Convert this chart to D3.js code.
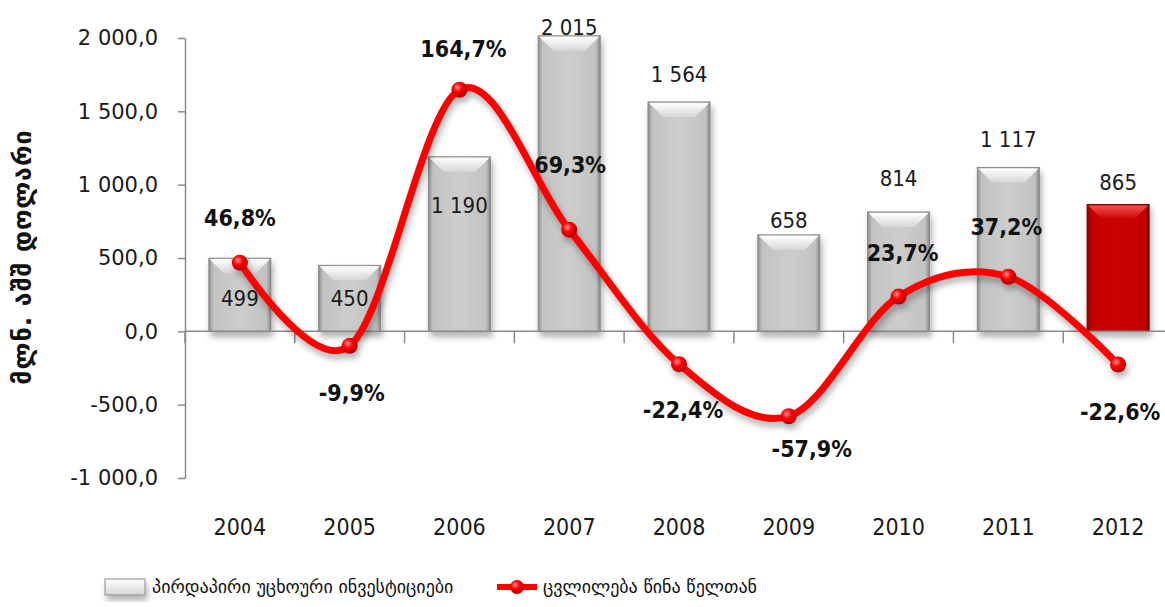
<!DOCTYPE html>
<html>
<head>
<meta charset="utf-8">
<script src="https://cdn.jsdelivr.net/npm/d3@7"></script>
<style>
  body { margin: 0; background: #fff; }
  svg { display: block; }
</style>
</head>
<body>
<svg id="chart"></svg>
<script>
// chart values
let years = ["2004", "2005", "2006", "2007", "2008", "2009", "2010", "2011", "2012"];
let fdiValues = [499, 450, 1190, 2015, 1564, 658, 814, 1117, 865];
let changePct = [46.8, -9.9, 164.7, 69.3, -22.4, -57.9, 23.7, 37.2, -22.6];
let yTicks = [-1000, -500, 0, 500, 1000, 1500, 2000];

let yTitle = "მლნ. აშშ დოლარი";
let legendBars = "პირდაპირი უცხოური ინვესტიციები";
let legendLine = "ცვლილება წინა წელთან";

// label nudges (px), the source chart had them moved by hand
let barLabelDy = [40, 33, 48, -9, -28, -15, -34, -28, -22];
let pctLabelDx = [0, 2, 4, 1, 4, 23, 4, -2, 2];
let pctLabelDy = [-45, 47, -41, -65, 46, 33, -44, -50, 47];

let width = 1165, height = 607;
let margin = {top: 38, right: -8, bottom: 129, left: 185};

let svg = d3.select("#chart")
  .attr("width", width)
  .attr("height", height)
  .attr("viewBox", [0, 0, width, height]);

let locale = d3.formatLocale({decimal: ",", thousands: " ", grouping: [3], currency: ["", ""], minus: "-"});
let fmtTick = locale.format(",.1f");
let fmtVal = locale.format(",.0f");
let fmtPct = locale.format(".1f");

let x = d3.scaleBand()
  .domain(years)
  .range([margin.left, width - margin.right])
  .paddingInner(0.435)
  .paddingOuter(0.2175);

let y = d3.scaleLinear()
  .domain([-1000, 2000])
  .range([height - margin.bottom, margin.top]);

// percent series shares the same vertical space (-100%..200%)
let yPct = d3.scaleLinear()
  .domain([-100, 200])
  .range([height - margin.bottom, margin.top]);

let cx = (d) => x(d) + x.bandwidth() / 2;

// defs: gradients + shadow
let defs = svg.append("defs");

function hGrad(id, stops) {
  let g = defs.append("linearGradient").attr("id", id)
    .attr("x1", "0%").attr("x2", "100%").attr("y1", "0%").attr("y2", "0%");
  stops.forEach((s) => g.append("stop").attr("offset", s[0]).attr("stop-color", s[1]));
}
function vGrad(id, stops) {
  let g = defs.append("linearGradient").attr("id", id)
    .attr("x1", "0%").attr("x2", "0%").attr("y1", "0%").attr("y2", "100%");
  stops.forEach((s) => g.append("stop").attr("offset", s[0]).attr("stop-color", s[1]));
}

hGrad("barGrey", [["0%", "#8c8c8c"], ["7%", "#c2c2c2"], ["50%", "#cdcdcd"], ["93%", "#c2c2c2"], ["100%", "#858585"]]);
hGrad("barRed", [["0%", "#8a0000"], ["7%", "#c00000"], ["50%", "#cc0000"], ["93%", "#c00000"], ["100%", "#800000"]]);
vGrad("bevelGrey", [["0%", "#ffffff"], ["100%", "#d6d6d6"]]);
vGrad("bevelRed", [["0%", "#f05050"], ["100%", "#cc0000"]]);

let rg = defs.append("radialGradient").attr("id", "marker")
  .attr("cx", "38%").attr("cy", "35%").attr("r", "65%");
rg.append("stop").attr("offset", "0%").attr("stop-color", "#ff9090");
rg.append("stop").attr("offset", "45%").attr("stop-color", "#ff0000");
rg.append("stop").attr("offset", "100%").attr("stop-color", "#b00000");

let shadow = defs.append("filter").attr("id", "shadow")
  .attr("x", "-20%").attr("y", "-20%").attr("width", "140%").attr("height", "160%");
shadow.append("feDropShadow")
  .attr("dx", 2).attr("dy", 5).attr("stdDeviation", 3)
  .attr("flood-color", "#000").attr("flood-opacity", 0.3);

// Axes.
let yAxis = svg.append("g")
  .attr("transform", "translate(" + margin.left + ",0)")
  .call(d3.axisLeft(y).tickValues(yTicks).tickSize(7).tickSizeOuter(0).tickPadding(20)
    .tickFormat((d) => fmtTick(d)));
yAxis.select(".domain").attr("stroke", "#8a8a8a").attr("stroke-width", 1.5);
yAxis.selectAll(".tick line").attr("stroke", "#8a8a8a").attr("stroke-width", 1.5);
yAxis.selectAll(".tick text")
  .attr("fill", "#1a1a1a")
  .style("font-family", "'DejaVu Sans', Verdana, sans-serif")
  .style("font-size", "21px");

// Render bars.
let bars = svg.append("g").attr("filter", "url(#shadow)")
  .selectAll("g").data(years).join("g");

bars.append("rect")
  .attr("x", (d) => x(d))
  .attr("y", (d, i) => y(fdiValues[i]))
  .attr("width", x.bandwidth())
  .attr("height", (d, i) => y(0) - y(fdiValues[i]))
  .attr("fill", (d, i) => i == years.length - 1 ? "url(#barRed)" : "url(#barGrey)")
  .attr("stroke", (d, i) => i == years.length - 1 ? "#7a0000" : "#8a8a8a")
  .attr("stroke-width", 1);

bars.append("path")
  .attr("d", (d, i) => {
    let x0 = x(d), x1 = x(d) + x.bandwidth(), t = y(fdiValues[i]), b = 15;
    return "M" + (x0 + 1) + "," + (t + 1) + "L" + (x1 - 1) + "," + (t + 1) +
      "L" + (x1 - b) + "," + (t + b) + "L" + (x0 + b) + "," + (t + b) + "Z";
  })
  .attr("fill", (d, i) => i == years.length - 1 ? "url(#bevelRed)" : "url(#bevelGrey)");

// zero line + category ticks
let axisG = svg.append("g").attr("stroke", "#8a8a8a").attr("stroke-width", 1.5);
axisG.append("line")
  .attr("x1", margin.left).attr("x2", width)
  .attr("y1", y(0)).attr("y2", y(0));
axisG.selectAll("line.cat").data(years).join("line")
  .attr("class", "cat")
  .attr("x1", (d) => x(d) - x.step() * x.paddingInner() / 2)
  .attr("x2", (d) => x(d) - x.step() * x.paddingInner() / 2)
  .attr("y1", y(0)).attr("y2", y(0) + 12);

// year labels, low position
svg.append("g").selectAll("text").data(years).join("text")
  .attr("x", (d) => cx(d))
  .attr("y", y(-1000) + 49)
  .attr("text-anchor", "middle")
  .attr("dy", "0.35em")
  .attr("fill", "#1a1a1a")
  .style("font-family", "'Liberation Sans Narrow', 'DejaVu Sans Condensed', sans-serif")
  .style("font-size", "23px")
  .text((d) => d);

// bar value labels
svg.append("g").selectAll("text").data(years).join("text")
  .attr("x", (d) => cx(d))
  .attr("y", (d, i) => y(fdiValues[i]) + barLabelDy[i])
  .attr("text-anchor", "middle")
  .attr("dy", "0.35em")
  .attr("fill", "#1a1a1a")
  .style("font-family", "'DejaVu Sans Condensed', 'Liberation Sans Narrow', sans-serif")
  .style("font-size", "22px")
  .text((d, i) => fmtVal(fdiValues[i]));

// Render line.
let line = d3.line()
  .x((d) => cx(d))
  .y((d, i) => yPct(changePct[i]))
  .curve(d3.curveCardinal.tension(0));

let lineG = svg.append("g").attr("filter", "url(#shadow)");
lineG.append("path")
  .datum(years)
  .attr("d", line)
  .attr("fill", "none")
  .attr("stroke", "#ff0000")
  .attr("stroke-width", 7)
  .attr("stroke-linecap", "round");

lineG.selectAll("circle").data(years).join("circle")
  .attr("cx", (d) => cx(d))
  .attr("cy", (d, i) => yPct(changePct[i]))
  .attr("r", 8)
  .attr("fill", "url(#marker)");

// percent labels
svg.append("g").selectAll("text").data(years).join("text")
  .attr("x", (d, i) => cx(d) + pctLabelDx[i])
  .attr("y", (d, i) => yPct(changePct[i]) + pctLabelDy[i])
  .attr("text-anchor", "middle")
  .attr("dy", "0.35em")
  .attr("fill", "#111")
  .style("font-family", "'DejaVu Sans Condensed', 'Liberation Sans Narrow', sans-serif")
  .style("font-weight", "bold")
  .style("font-size", "23px")
  .text((d, i) => fmtPct(changePct[i]) + "%");

// y axis title
svg.append("text")
  .attr("transform", "translate(22,257) rotate(-90)")
  .attr("text-anchor", "middle")
  .attr("dy", "0.35em")
  .attr("fill", "#111")
  .style("font-family", "'DejaVu Sans', sans-serif")
  .style("font-weight", "bold")
  .style("font-size", "25px")
  .style("letter-spacing", "1px")
  .text(yTitle);

// Legend.
let legend = svg.append("g").attr("transform", "translate(0,587)");
let lb = legend.append("g").attr("filter", "url(#shadow)");
lb.append("rect")
  .attr("x", 105).attr("y", -8).attr("width", 40).attr("height", 16)
  .attr("fill", "url(#bevelGrey)")
  .attr("stroke", "#8a8a8a");
legend.append("text")
  .attr("x", 152).attr("dy", "0.35em")
  .attr("fill", "#111")
  .style("font-family", "'DejaVu Sans', sans-serif")
  .style("font-size", "18px")
  .text(legendBars);

legend.append("line")
  .attr("x1", 497).attr("x2", 537)
  .attr("stroke", "#ff0000").attr("stroke-width", 6);
legend.append("circle")
  .attr("cx", 517).attr("r", 7)
  .attr("fill", "url(#marker)");
legend.append("text")
  .attr("x", 543).attr("dy", "0.35em")
  .attr("fill", "#111")
  .style("font-family", "'DejaVu Sans', sans-serif")
  .style("font-size", "18px")
  .text(legendLine);
</script>
</body>
</html>
